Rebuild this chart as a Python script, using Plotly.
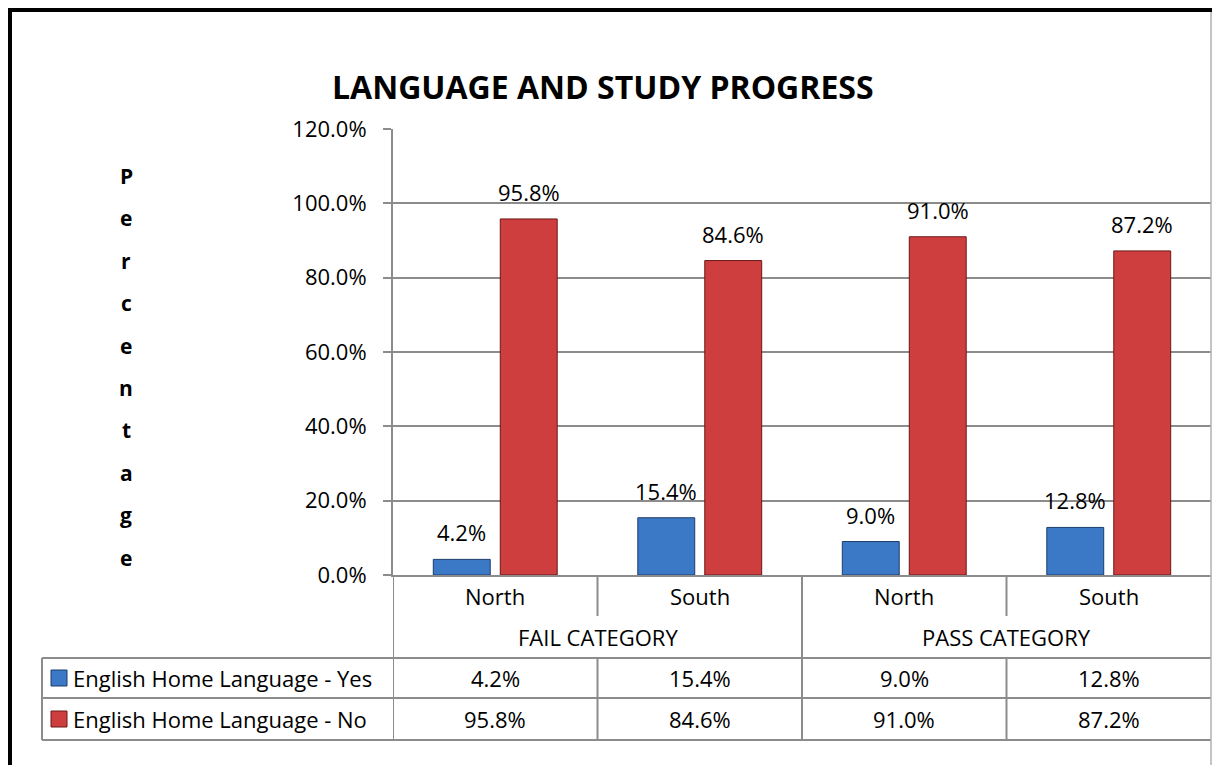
import plotly.graph_objects as go

# ---- data ----
regions = ["North", "South", "North", "South"]
groups = ["FAIL CATEGORY", "PASS CATEGORY"]
yes_share = [4.2, 15.4, 9.0, 12.8]
no_share = [95.8, 84.6, 91.0, 87.2]
series_names = ["English Home Language - Yes", "English Home Language - No"]
y_ticks = [0, 20, 40, 60, 80, 100, 120]
chart_title = "LANGUAGE AND STUDY PROGRESS"
axis_title = "Percentage"

# ---- geometry (pixels) ----
W, H = 1212, 765
PL, PR, PT, PB = 393, 1211, 129, 575       # plot area
ROW_CAT_END = 658                           # end of category label rows
ROW_YES_END = 698
ROW_NO_END = 740
TABLE_LEFT = 42
FONT = "Open Sans"
GRID = "#8c8c8c"
BLUE, BLUE_EDGE = "#3b78c6", "#1d3d6b"
RED, RED_EDGE = "#cf3e3e", "#6a1818"


def px(x):
    return (x - PL) / (PR - PL)


def py(y):
    return (PB - y) / (PB - PT)


positions = list(range(len(regions)))

fig = go.Figure()
fig.add_trace(go.Bar(x=positions, y=yes_share, name=series_names[0],
                     marker=dict(color=BLUE, line=dict(color=BLUE_EDGE, width=1))))
fig.add_trace(go.Bar(x=positions, y=no_share, name=series_names[1],
                     marker=dict(color=RED, line=dict(color=RED_EDGE, width=1))))

annotations = []
shapes = []

# value labels above the bars
for vals, shift in ((yes_share, -33.5), (no_share, 33.5)):
    for i, v in enumerate(vals):
        annotations.append(dict(x=i, y=v, xref="x", yref="y", text=f"{v:.1f}%",
                                showarrow=False, xshift=shift, yshift=27,
                                yanchor="middle", font=dict(size=22, family=FONT, color="black")))

# title
annotations.append(dict(x=px(603), y=py(87), xref="paper", yref="paper", text=f"<b>{chart_title}</b>",
                        showarrow=False, xanchor="center", yanchor="middle",
                        font=dict(size=32, family=FONT, color="black")))

# vertical axis title, one letter per line
for k, ch in enumerate(axis_title):
    annotations.append(dict(x=px(126), y=py(176 + k * 42.4), xref="paper", yref="paper",
                            text=f"<b>{ch}</b>", showarrow=False, xanchor="center", yanchor="middle",
                            font=dict(size=21, family=FONT, color="black")))

# data table: region row, group row, value rows
for i, r in enumerate(regions):
    annotations.append(dict(x=i, y=py(596), xref="x", yref="paper", text=r, showarrow=False,
                            yanchor="middle", font=dict(size=22, family=FONT, color="black")))
    annotations.append(dict(x=i, y=py(678), xref="x", yref="paper", text=f"{yes_share[i]:.1f}%",
                            showarrow=False, yanchor="middle", font=dict(size=22, family=FONT, color="black")))
    annotations.append(dict(x=i, y=py(719), xref="x", yref="paper", text=f"{no_share[i]:.1f}%",
                            showarrow=False, yanchor="middle", font=dict(size=22, family=FONT, color="black")))
for g, name in enumerate(groups):
    annotations.append(dict(x=2 * g + 0.5, y=py(637), xref="x", yref="paper", text=name, showarrow=False,
                            yanchor="middle", font=dict(size=22, family=FONT, color="black")))

# series names with colour keys
for s, (name, fill, edge, yc) in enumerate(((series_names[0], BLUE, BLUE_EDGE, 678),
                                            (series_names[1], RED, RED_EDGE, 719))):
    annotations.append(dict(x=px(71), y=py(yc), xref="paper", yref="paper", text=name, showarrow=False,
                            xanchor="left", yanchor="middle", font=dict(size=22, family=FONT, color="black")))
    shapes.append(dict(type="rect", xref="paper", yref="paper", x0=px(51), x1=px(67),
                       y0=py(yc - 8), y1=py(yc + 8), fillcolor=fill, line=dict(color=edge, width=1)))


def hline(x0, x1, y, color=GRID, width=2):
    shapes.append(dict(type="line", xref="paper", yref="paper", x0=px(x0), x1=px(x1),
                       y0=py(y), y1=py(y), line=dict(color=color, width=width)))


def vline_cat(xc, y0, y1, color=GRID, width=2):
    shapes.append(dict(type="line", xref="x", yref="paper", x0=xc, x1=xc,
                       y0=py(y0), y1=py(y1), line=dict(color=color, width=width)))


# table grid
for y in (ROW_CAT_END, ROW_YES_END, ROW_NO_END):
    hline(TABLE_LEFT, PR, y)
shapes.append(dict(type="line", xref="paper", yref="paper", x0=px(TABLE_LEFT), x1=px(TABLE_LEFT),
                   y0=py(ROW_CAT_END), y1=py(ROW_NO_END), line=dict(color=GRID, width=2)))
vline_cat(-0.5, PB, ROW_NO_END)
vline_cat(1.5, PB, ROW_NO_END)
for xc in (0.5, 2.5):
    vline_cat(xc, PB, 616)
    vline_cat(xc, ROW_CAT_END, ROW_NO_END)

# chart frame
shapes.append(dict(type="line", xref="paper", yref="paper", x0=px(8), x1=px(W),
                   y0=py(10), y1=py(10), line=dict(color="black", width=4)))
shapes.append(dict(type="line", xref="paper", yref="paper", x0=px(10), x1=px(10),
                   y0=py(8), y1=py(H), line=dict(color="black", width=4)))
shapes.append(dict(type="line", xref="paper", yref="paper", x0=px(1211), x1=px(1211),
                   y0=py(12), y1=py(H), line=dict(color="#b0b0b0", width=1.5)))

fig.update_layout(
    width=W, height=H,
    margin=dict(l=PL, r=W - PR, t=PT, b=H - PB, pad=0),
    paper_bgcolor="white", plot_bgcolor="white",
    barmode="group", bargap=0.345, bargroupgap=0.15,
    showlegend=False,
    annotations=annotations, shapes=shapes,
    font=dict(family=FONT, color="black"),
)
fig.update_xaxes(range=[-0.5, len(regions) - 0.5], showticklabels=False, showgrid=False,
                 zeroline=False, showline=True, linecolor=GRID, linewidth=2, ticks="")
fig.update_yaxes(range=[0, 120], tickvals=y_ticks, ticktext=[f"{v:.1f}%" for v in y_ticks],
                 tickfont=dict(size=22, family=FONT, color="black"),
                 showgrid=True, gridcolor=GRID, gridwidth=1.5, zeroline=False,
                 showline=True, linecolor=GRID, linewidth=2,
                 ticks="outside", ticklen=8, tickcolor=GRID, tickwidth=1.5, ticklabelstandoff=12)

fig.write_html("out.html")
